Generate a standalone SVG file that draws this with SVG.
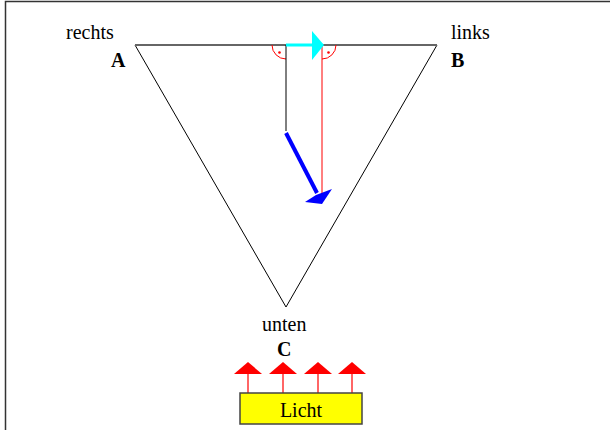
<svg xmlns="http://www.w3.org/2000/svg" width="610" height="430" viewBox="0 0 610 430">
<defs>
<style>
.t{font-family:'Liberation Serif','Times New Roman',Times,serif;font-size:20px;fill:#000}
.b{font-weight:bold}
</style>
</defs>
<rect x="0" y="0" width="610" height="430" fill="#fff"/>
<g id="frame"><path d="M5.5,430 V1.5 H610" fill="none" stroke="#333" stroke-width="1.5"/></g>
<g id="triangle">
<path d="M135,45 L286,307 L437,45" fill="none" stroke="#000" stroke-width="1"/>
<line x1="135" y1="45" x2="437" y2="45" stroke="#666" stroke-width="2"/>
</g>
<g id="labels">
<text x="66" y="39" class="t">rechts</text>
<text x="111" y="67" class="t b">A</text>
<text x="451" y="39" class="t">links</text>
<text x="451" y="67" class="t b">B</text>
<text x="262" y="331" class="t">unten</text>
<text x="277" y="356" class="t b">C</text>
</g>
<g id="angles" fill="none" stroke="#f00" stroke-width="1">
<path d="M272,45 A14,14 0 0 0 286,59"/>
<path d="M336,45 A14,14 0 0 1 322,59"/>
<circle cx="279.5" cy="52.5" r="1.3" fill="#f00" stroke="none"/>
<circle cx="328.5" cy="52.5" r="1.3" fill="#f00" stroke="none"/>
</g>
<g id="connectors">
<line x1="286" y1="45" x2="286" y2="131" stroke="#000" stroke-width="1"/>
<line x1="322" y1="45" x2="322" y2="200" stroke="#f00" stroke-width="1"/>
<line x1="286" y1="45" x2="314" y2="45" stroke="#0ff" stroke-width="3"/>
<polygon points="312,31 324,45 312,60" fill="#0ff"/>
<line x1="286" y1="133" x2="317" y2="193" stroke="#00f" stroke-width="4"/>
<polygon points="305,202 316,195 332,189 322,204" fill="#00f"/>
</g>
<g id="light">
<g stroke="#f66" stroke-width="2">
<line x1="248" y1="393" x2="248" y2="374"/>
<line x1="283" y1="393" x2="283" y2="374"/>
<line x1="318" y1="393" x2="318" y2="374"/>
<line x1="352" y1="393" x2="352" y2="374"/>
</g>
<g fill="#f00">
<polygon points="248,362 234,374 262,374"/>
<polygon points="283,362 269,374 297,374"/>
<polygon points="318,362 304,374 332,374"/>
<polygon points="352,362 338,374 366,374"/>
</g>
<rect x="240" y="393" width="122" height="31" fill="#ff0" stroke="#444" stroke-width="1.5"/>
<text x="301" y="417" text-anchor="middle" class="t">Licht</text>
</g>
</svg>
